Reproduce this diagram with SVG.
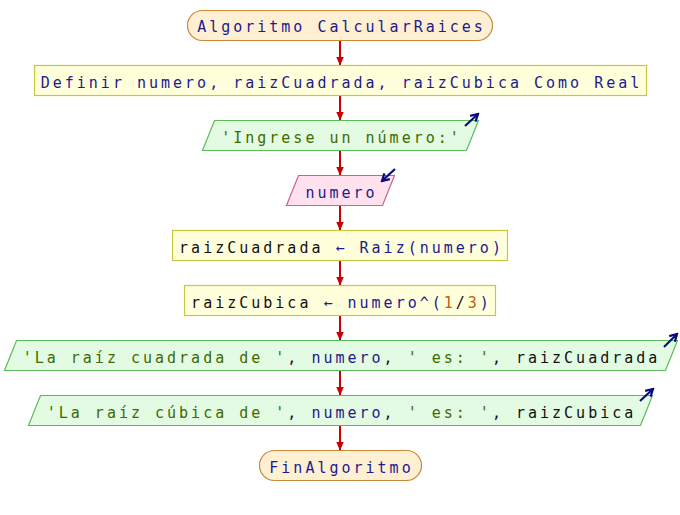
<svg xmlns="http://www.w3.org/2000/svg" width="680" height="515" viewBox="0 0 680 515">
<style>
text{font-family:"DejaVu Sans Mono","Liberation Mono",monospace;font-size:15px;letter-spacing:3px;text-anchor:middle;white-space:pre;fill:#1e1a8c}
.term{fill:#fff0d4;stroke:#c8883a;stroke-width:1.2}
.proc{fill:#ffffdc;stroke:#c8c840;stroke-width:1.2}
.out{fill:#e2fbe2;stroke:#5abb5a;stroke-width:1.2}
.in{fill:#ffe2ee;stroke:#c86490;stroke-width:1.2}
.k{fill:#1e1a8c}
.s{fill:#3e6a00}
.b{fill:#111}
.n{fill:#c0600a}
.c{stroke:#cc0000;stroke-width:2;fill:none}
.io{stroke:#0a0a80;stroke-width:2.2;fill:none}
</style>
<defs>
<marker id="ah" markerWidth="10" markerHeight="8" refX="9" refY="4" orient="auto" markerUnits="userSpaceOnUse"><path d="M0,0 L9,4 L0,8 Z" fill="#cc0000"/></marker>
<marker id="bh" markerWidth="10" markerHeight="10" refX="8" refY="5" orient="auto" markerUnits="userSpaceOnUse"><path d="M1,1 L8,5 L1,9" fill="none" stroke="#0a0a80" stroke-width="2.2"/></marker>
</defs>
<g id="connectors">
<line class="c" x1="340" y1="40.5" x2="340" y2="65.5" marker-end="url(#ah)"/>
<line class="c" x1="340" y1="95.5" x2="340" y2="120.5" marker-end="url(#ah)"/>
<line class="c" x1="340" y1="150.5" x2="340" y2="175.5" marker-end="url(#ah)"/>
<line class="c" x1="340" y1="205.5" x2="340" y2="230.5" marker-end="url(#ah)"/>
<line class="c" x1="340" y1="260.5" x2="340" y2="285.5" marker-end="url(#ah)"/>
<line class="c" x1="340" y1="315.5" x2="340" y2="340.5" marker-end="url(#ah)"/>
<line class="c" x1="340" y1="370.5" x2="340" y2="395.5" marker-end="url(#ah)"/>
<line class="c" x1="340" y1="425.5" x2="340" y2="450.5" marker-end="url(#ah)"/>
</g>
<g id="n1">
<rect class="term" x="187.5" y="10.5" width="305" height="30" rx="15"/>
<text x="341.5" y="32">Algoritmo CalcularRaices</text>
</g>
<g id="n2">
<rect class="proc" x="34.5" y="65.5" width="612" height="30"/>
<text x="341.5" y="87.5">Definir numero, raizCuadrada, raizCubica Como Real</text>
</g>
<g id="n3">
<polygon class="out" points="214.5,120.5 478.5,120.5 466.5,150.5 202.5,150.5"/>
<text x="341.5" y="142.5" class="s">'Ingrese un número:'</text>
<line class="io" x1="465" y1="126" x2="478" y2="114" marker-end="url(#bh)"/>
</g>
<g id="n4">
<polygon class="in" points="298.5,175.5 394.5,175.5 382.5,205.5 286.5,205.5"/>
<text x="341.5" y="197.5">numero</text>
<line class="io" x1="395" y1="169" x2="382" y2="181" marker-end="url(#bh)"/>
</g>
<g id="n5">
<rect class="proc" x="172.5" y="230.5" width="335" height="30"/>
<text x="341.5" y="252.5"><tspan class="b">raizCuadrada</tspan> ← Raiz(numero)</text>
</g>
<g id="n6">
<rect class="proc" x="184.5" y="285.5" width="311" height="30"/>
<text x="341.5" y="307.5"><tspan class="b">raizCubica</tspan> ← numero^(<tspan class="n">1</tspan><tspan class="b">/</tspan><tspan class="n">3</tspan>)</text>
</g>
<g id="n7">
<polygon class="out" points="16.5,340.5 677.5,340.5 665.5,370.5 4.5,370.5"/>
<text x="341.5" y="362.5"><tspan class="s">'La raíz cuadrada de '</tspan><tspan class="b">, </tspan>numero<tspan class="b">, </tspan><tspan class="s">' es: '</tspan><tspan class="b">, raizCuadrada</tspan></text>
<line class="io" x1="664" y1="347" x2="677" y2="334" marker-end="url(#bh)"/>
</g>
<g id="n8">
<polygon class="out" points="40.5,395.5 652.5,395.5 640.5,425.5 28.5,425.5"/>
<text x="341.5" y="417.5"><tspan class="s">'La raíz cúbica de '</tspan><tspan class="b">, </tspan>numero<tspan class="b">, </tspan><tspan class="s">' es: '</tspan><tspan class="b">, raizCubica</tspan></text>
<line class="io" x1="640" y1="401" x2="653" y2="389" marker-end="url(#bh)"/>
</g>
<g id="n9">
<rect class="term" x="259.5" y="450.5" width="162" height="30" rx="15"/>
<text x="341.5" y="472.5">FinAlgoritmo</text>
</g>
</svg>
